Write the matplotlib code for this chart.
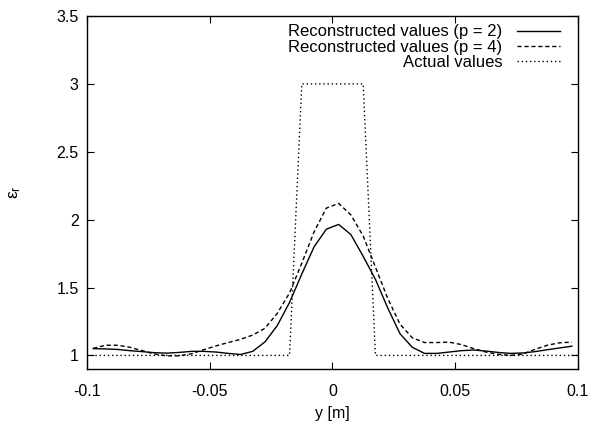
import numpy as np
import matplotlib
matplotlib.use("Agg")
import matplotlib.pyplot as plt

# sample positions [m]
y_pos = np.round(np.arange(-0.0975, 0.0976, 0.005), 4)

eps_p2 = [
    1.050, 1.048, 1.044, 1.035, 1.028, 1.020, 1.017, 1.022, 1.030, 1.030,
    1.025, 1.015, 1.007, 1.030, 1.100, 1.220, 1.390, 1.600, 1.800, 1.930,
    1.965, 1.890, 1.730, 1.560, 1.350, 1.160, 1.060, 1.015, 1.015, 1.025,
    1.035, 1.040, 1.032, 1.022, 1.015, 1.018, 1.028, 1.042, 1.055, 1.068,
]

eps_p4 = [
    1.052, 1.075, 1.075, 1.060, 1.035, 1.010, 0.997, 0.997, 1.012, 1.042,
    1.070, 1.095, 1.118, 1.150, 1.200, 1.310, 1.460, 1.680, 1.910, 2.085,
    2.120, 2.035, 1.880, 1.650, 1.420, 1.230, 1.130, 1.095, 1.095, 1.098,
    1.080, 1.050, 1.025, 1.008, 1.000, 1.010, 1.045, 1.075, 1.093, 1.098,
]

actual_y = [-0.1, -0.0175, -0.0125, 0.0125, 0.0175, 0.1]
actual_eps = [1.0, 1.0, 3.0, 3.0, 1.0, 1.0]

x_ticks = [-0.1, -0.05, 0.0, 0.05, 0.1]
x_labels = ["-0.1", "-0.05", "0", "0.05", "0.1"]
y_ticks = [1.0, 1.5, 2.0, 2.5, 3.0, 3.5]
y_labels = ["1", "1.5", "2", "2.5", "3", "3.5"]

plt.rcParams["font.family"] = ["Liberation Sans", "DejaVu Sans"]
plt.rcParams["font.size"] = 11.5
plt.rcParams["mathtext.fontset"] = "custom"
plt.rcParams["mathtext.rm"] = "Liberation Sans"
plt.rcParams["mathtext.it"] = "Liberation Sans"

fig = plt.figure(figsize=(5.94, 4.24), dpi=100)
ax = fig.add_axes([0.1465, 0.1297, 0.8265, 0.8325])

ax.plot(y_pos, eps_p2, color="black", lw=1.0, label="Reconstructed values (p = 2)")
ax.plot(y_pos, eps_p4, color="black", lw=1.0, dashes=(3, 2),
        label="Reconstructed values (p = 4)")
ax.plot(actual_y, actual_eps, color="black", lw=1.0, dashes=(1, 2),
        label="Actual values")

ax.set_xlim(-0.1, 0.1)
ax.set_ylim(0.9, 3.5)
ax.set_xticks(x_ticks)
ax.set_xticklabels(x_labels)
ax.set_yticks(y_ticks)
ax.set_yticklabels(y_labels)
ax.tick_params(direction="in", length=5, width=0.8, top=True, right=True)
ax.tick_params(axis="x", pad=11)
ax.tick_params(axis="y", pad=6)
for s in ax.spines.values():
    s.set_linewidth(1.0)

ax.set_xlabel("y [m]", labelpad=5)
ax.set_ylabel(r"$ε_r$", labelpad=24, fontsize=12.5)

ax.legend(loc="upper right", bbox_to_anchor=(0.977, 0.995), frameon=False,
          markerfirst=False, fontsize=12,
          handlelength=2.6, handletextpad=0.85, labelspacing=0.02,
          borderaxespad=0.0, borderpad=0.4)

fig.savefig("out.png", dpi=100)
